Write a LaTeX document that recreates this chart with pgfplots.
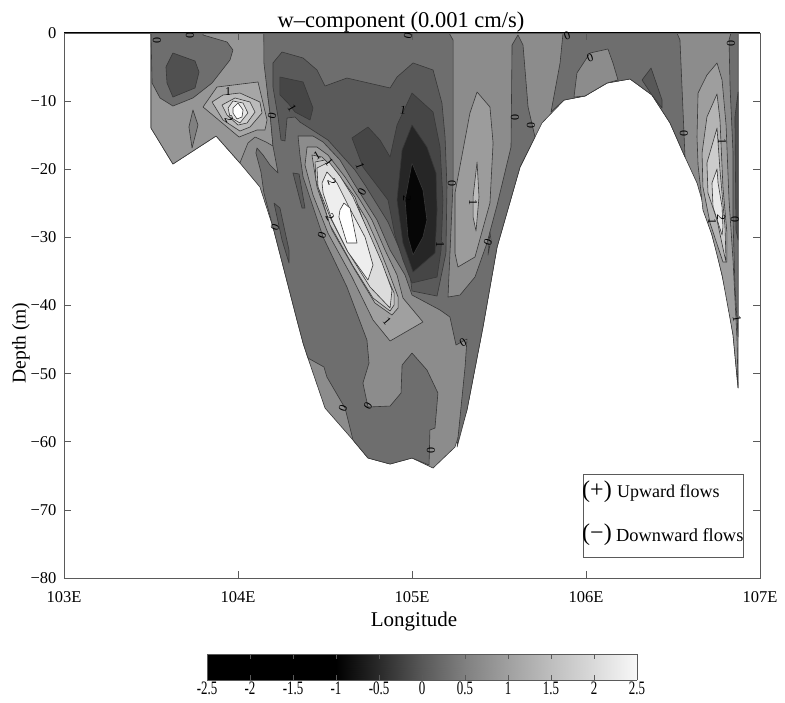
\documentclass[border=0pt]{standalone}
\usepackage{fontspec}
\setmainfont{Liberation Serif}
\usepackage{pgfplots}
\pgfplotsset{compat=1.18}
\definecolor{axc}{HTML}{5A5A5A}
\definecolor{lnc}{HTML}{383838}
\newcommand\poly[2]{\xglobal\definecolor{pc#1}{HTML}{#1}\addplot[line width=0.6pt,draw=lnc,fill=pc#1,no markers,sharp plot,line join=round] coordinates {#2} -- cycle;}
\newcommand\clab[4]{\node[font=\fontsize{12}{12}\selectfont,text=black,inner sep=0pt,rotate=#4] at ({#1*1pt},{(702-#2)*1pt}) {#3};}
\newcommand\txt[4]{\node[font=\fontsize{#4}{#4}\selectfont,text=black,inner sep=0pt] at ({#1*1pt},{(702-#2)*1pt}) {#3};}
\begin{document}
\begin{tikzpicture}
\path[use as bounding box] (0,0) rectangle (785pt,702pt);
\begin{axis}[
  name=main, at={(64pt,124pt)}, anchor=south west, scale only axis,
  width=696pt, height=545pt, xmin=103, xmax=107, ymin=-80, ymax=0,
  axis on top, axis line style={color=axc,line width=0.9pt},
  tick align=inside, major tick length=7pt, tick style={color=axc,line width=0.7pt},
  xtick={103,104,105,106,107}, xticklabels={103E,104E,105E,106E,107E},
  ytick={-80,-70,-60,-50,-40,-30,-20,-10,0},
  yticklabels={−80,−70,−60,−50,−40,−30,−20,−10,0},
  tick label style={font=\fontsize{16.5}{17}\selectfont},
  xticklabel style={yshift=-10pt}, yticklabel style={xshift=-4pt},
]
% domain
\poly{8C8C8C}{(103.5,0)(103.5,-13.95)(103.626,-19.23)(103.874,-15.12)(104.011,-19.08)(104.126,-22.61)(104.201,-28.48)(104.339,-42.13)(104.374,-45.51)(104.402,-47.71)(104.5,-55.05)(104.661,-59.75)(104.747,-62.39)(104.874,-63.27)(105.0,-62.39)(105.121,-63.86)(105.247,-60.78)(105.316,-55.34)(105.408,-43.16)(105.489,-31.42)(105.621,-19.67)(105.747,-13.21)(105.874,-9.84)(105.994,-9.25)(106.121,-7.34)(106.253,-6.75)(106.379,-9.10)(106.483,-13.21)(106.569,-18.20)(106.638,-22.02)(106.695,-27.01)(106.753,-32.30)(106.810,-38.76)(106.845,-44.33)(106.874,-52.11)(106.874,0)}
% left lighter area
\poly{969696}{(103.5,0)(104.149,0)(104.149,-1.03)(104.172,-9.40)(104.184,-11.74)(104.201,-16.59)(104.161,-16.0)(104.098,-15.27)(104.057,-16.15)(104.011,-19.08)(103.874,-15.12)(103.626,-19.23)(103.5,-13.95)}
\poly{6E6E6E}{(103.5,0)(103.506,-7.34)(103.552,-9.54)(103.626,-10.72)(103.741,-9.54)(103.851,-7.34)(103.954,-3.96)(103.971,-2.50)(103.937,-1.32)(103.799,-0.29)(103.8,0)}
\poly{505050}{(103.626,-2.94)(103.753,-4.11)(103.776,-5.73)(103.753,-8.07)(103.626,-9.40)(103.592,-7.34)(103.586,-4.99)}
\poly{808080}{(103.741,-11.30)(103.770,-13.51)(103.736,-16.88)(103.718,-13.80)}
% bright spot
\poly{A6A6A6}{(103.799,-10.86)(103.879,-7.93)(104.115,-7.19)(104.167,-12.77)(104.155,-14.24)(104.109,-14.24)(104.006,-15.27)}
\poly{BABABA}{(103.851,-10.13)(103.914,-9.10)(104.011,-8.81)(104.126,-10.13)(104.138,-11.74)(104.069,-13.80)(104.011,-14.39)(103.914,-12.77)}
\poly{CECECE}{(103.908,-10.57)(103.983,-9.54)(104.069,-10.13)(104.098,-11.60)(104.052,-13.21)(104.0,-13.51)(103.937,-12.04)}
\poly{E6E6E6}{(103.943,-11.01)(103.971,-9.98)(104.029,-10.28)(104.057,-11.74)(104.011,-13.21)(103.954,-12.33)}
\poly{FFFFFF}{(103.971,-11.01)(104.0,-10.28)(104.029,-11.30)(104.023,-12.33)(103.994,-12.62)(103.971,-11.74)}
% large dark region
\poly{6E6E6E}{(104.149,0)(105.213,0)(105.236,-1.03)(105.236,-22.02)(105.207,-38.76)(105.276,-38.46)(105.362,-35.82)(105.431,-30.83)(105.489,-25.25)(105.569,-16.74)(105.575,-1.76)(105.609,-0.29)(105.638,-1.76)(105.667,-10.86)(105.707,-15.27)(105.621,-19.67)(105.489,-31.42)(105.408,-43.16)(105.316,-55.34)(105.259,-60.78)(105.305,-49.03)(105.316,-44.92)(105.253,-45.80)(105.218,-41.69)(105.161,-40.66)(105.0,-38.46)(104.960,-35.53)(104.874,-31.86)(104.799,-27.45)(104.672,-22.31)(104.586,-18.64)(104.489,-16.0)(104.431,-15.12)(104.345,-15.12)(104.356,-17.91)(104.374,-21.14)(104.489,-29.95)(104.626,-37.29)(104.741,-45.07)(104.753,-48.44)(104.718,-51.38)(104.747,-54.90)(104.874,-54.76)(104.937,-52.85)(104.943,-48.74)(105.0,-46.98)(105.086,-49.47)(105.149,-52.85)(105.132,-57.99)(105.103,-58.28)(105.098,-63.42)(105.0,-62.39)(104.874,-63.27)(104.747,-62.39)(104.661,-59.75)(104.615,-55.05)(104.511,-50.50)(104.494,-49.03)(104.402,-47.71)(104.374,-45.51)(104.339,-42.13)(104.201,-28.48)(104.149,-23.49)(104.132,-20.40)(104.103,-17.62)(104.109,-16.88)(104.144,-17.91)(104.184,-19.38)(104.230,-20.55)(104.201,-16.59)(104.184,-11.74)(104.172,-9.40)(104.149,-4.40)(104.149,-1.03)}
\poly{5A5A5A}{(104.316,-20.55)(104.351,-20.70)(104.385,-25.69)(104.368,-25.69)}
\poly{5A5A5A}{(104.207,-24.96)(104.241,-25.69)(104.293,-31.86)(104.293,-33.76)(104.253,-30.39)}
\poly{5A5A5A}{(104.201,-4.40)(104.253,-2.79)(104.374,-3.67)(104.454,-5.43)(104.5,-7.78)(104.626,-6.61)(104.874,-8.07)(104.914,-6.46)(105.006,-4.40)(105.121,-5.43)(105.172,-10.28)(105.190,-15.27)(105.201,-22.61)(105.195,-32.30)(105.144,-38.61)(105.0,-37.87)(104.989,-35.53)(104.931,-31.86)(104.862,-27.75)(104.730,-22.31)(104.672,-20.11)(104.517,-15.71)(104.356,-13.07)(104.328,-12.33)(104.282,-12.48)(104.270,-15.85)(104.247,-15.71)(104.230,-12.33)(104.201,-7.93)}
\poly{464646}{(104.241,-6.46)(104.374,-7.19)(104.431,-11.01)(104.414,-12.77)(104.328,-11.60)(104.287,-10.28)(104.241,-9.10)}
\poly{464646}{(104.655,-15.41)(104.747,-13.80)(104.816,-15.71)(104.874,-18.20)(104.914,-13.51)(105.0,-8.81)(105.121,-11.60)(105.161,-16.74)(105.178,-24.51)(105.167,-31.86)(105.144,-35.82)(105.0,-36.70)(104.948,-33.32)(104.902,-29.66)(104.862,-24.51)(104.718,-19.67)}
\poly{262626}{(105.0,-13.51)(105.086,-16.74)(105.138,-20.55)(105.144,-25.98)(105.132,-32.30)(105.006,-35.08)(104.948,-30.83)(104.914,-24.51)(104.943,-17.18)}
\poly{060606}{(105.0,-19.08)(105.063,-23.05)(105.086,-27.45)(105.063,-29.95)(105.006,-32.59)(104.977,-29.95)(104.960,-24.51)}
% plume
\poly{A0A0A0}{(104.397,-16.74)(104.454,-16.74)(104.517,-17.91)(104.615,-21.14)(104.701,-24.51)(104.770,-27.45)(104.845,-31.86)(104.914,-35.53)(104.948,-38.90)(105.063,-42.42)(104.874,-45.21)(104.776,-42.13)(104.655,-35.82)(104.517,-29.37)(104.431,-23.78)(104.385,-19.38)}
\poly{B4B4B4}{(104.425,-17.91)(104.483,-18.20)(104.557,-20.11)(104.644,-23.34)(104.741,-27.45)(104.805,-31.12)(104.862,-34.79)(104.920,-38.75)(104.920,-40.37)(104.885,-41.40)(104.787,-39.63)(104.672,-34.79)(104.540,-28.92)(104.454,-22.61)}
\poly{C8C8C8}{(104.443,-18.94)(104.5,-18.64)(104.580,-20.85)(104.672,-24.07)(104.718,-27.45)(104.776,-31.12)(104.839,-34.79)(104.897,-38.17)(104.897,-39.93)(104.874,-40.81)(104.776,-38.90)(104.661,-34.20)(104.529,-28.18)(104.448,-21.58)}
\poly{DCDCDC}{(104.454,-19.82)(104.523,-18.94)(104.586,-20.99)(104.661,-24.07)(104.753,-29.36)(104.828,-33.76)(104.885,-37.73)(104.874,-40.37)(104.759,-37.29)(104.626,-31.86)(104.529,-27.01)(104.460,-22.61)}
\poly{EEEEEE}{(104.483,-22.02)(104.511,-20.40)(104.569,-22.02)(104.632,-25.25)(104.730,-29.95)(104.776,-34.06)(104.747,-36.26)(104.632,-32.15)(104.540,-27.45)(104.489,-23.49)}
\poly{FFFFFF}{(104.586,-25.98)(104.609,-24.96)(104.644,-25.69)(104.684,-30.83)(104.626,-30.83)(104.580,-27.01)}
% bubble
\poly{9C9C9C}{(105.374,-8.66)(105.448,-10.86)(105.466,-16.15)(105.448,-24.96)(105.362,-32.88)(105.264,-34.35)(105.247,-32.30)(105.247,-23.49)(105.333,-11.74)}
\poly{BCBCBC}{(105.374,-18.94)(105.385,-24.07)(105.368,-29.07)(105.351,-27.01)(105.351,-24.07)}
\poly{8C8C8C}{(105.448,-29.21)(105.437,-32.59)(105.454,-30.39)}
% right hill side
\poly{6E6E6E}{(105.868,0)(105.851,-4.40)(105.799,-11.60)(105.874,-9.84)(105.994,-9.25)(106.121,-7.34)(106.253,-6.75)(106.379,-9.10)(106.483,-13.21)(106.569,-18.20)(106.540,-1.03)(106.523,0)}
\poly{8C8C8C}{(105.931,-9.40)(105.948,-5.87)(106.023,-2.94)(106.126,-2.35)(106.155,-4.40)(106.184,-6.90)(106.121,-7.34)(105.994,-9.25)}
\poly{585858}{(106.322,-6.90)(106.374,-5.14)(106.437,-9.84)(106.437,-11.01)(106.379,-9.10)}
% right plume
\poly{9E9E9E}{(106.753,-4.40)(106.695,-6.17)(106.644,-8.81)(106.638,-15.27)(106.644,-19.38)(106.672,-25.98)(106.724,-29.65)(106.782,-35.53)(106.845,-44.33)(106.874,-52.11)(106.868,-45.07)(106.845,-33.32)(106.822,-24.51)(106.805,-13.51)(106.782,-6.90)}
\poly{B4B4B4}{(106.753,-8.95)(106.695,-12.33)(106.667,-17.62)(106.672,-22.61)(106.713,-27.89)(106.787,-33.62)(106.810,-33.62)(106.810,-29.36)(106.787,-22.61)(106.770,-12.77)}
\poly{CCCCCC}{(106.753,-13.95)(106.695,-19.08)(106.701,-23.49)(106.753,-27.45)(106.793,-32.30)(106.805,-33.62)(106.799,-28.48)(106.770,-20.11)}
\poly{E8E8E8}{(106.753,-19.96)(106.724,-22.02)(106.730,-25.54)(106.782,-29.65)(106.787,-28.48)(106.782,-25.54)(106.759,-22.02)}
\poly{6E6E6E}{(106.822,-1.03)(106.833,0)(106.874,0)(106.874,-44.63)(106.856,-37.29)(106.845,-27.45)(106.845,-17.62)(106.828,-7.93)}
\poly{505050}{(106.874,-8.66)(106.856,-12.33)(106.862,-28.92)(106.874,-30.39)}
\end{axis}
% colour bar
\begin{axis}[
  at={(207pt,22pt)}, anchor=south west, scale only axis,
  width=430pt, height=26pt, xmin=-2.5, xmax=2.5, ymin=0, ymax=1,
  view={0}{90}, axis on top,
  colormap={cb}{color(0)=(black) color(3)=(black) rgb255(4)=(42,42,42) rgb255(5)=(88,88,88) rgb255(6)=(128,128,128) rgb255(7)=(160,160,160) rgb255(8)=(190,190,190) rgb255(9)=(218,218,218) rgb255(10)=(248,248,248)},
  axis line style={color=axc,line width=0.9pt},
  ytick=\empty, xtick={-2.5,-2,-1.5,-1,-0.5,0,0.5,1,1.5,2,2.5},
  xticklabels={-2.5,-2,-1.5,-1,-0.5,0,0.5,1,1.5,2,2.5},
  tick align=inside, major tick length=5pt, tick style={color=axc,line width=0.6pt},
  xtick pos=both,
  xticklabel style={font=\fontsize{19}{19}\selectfont, xscale=0.68, yshift=2pt},
]
\addplot3[surf,shader=interp,point meta=x] coordinates {
(-2.5,0,0) (2.5,0,0)

(-2.5,1,0) (2.5,1,0)
};
\end{axis}
% text
\txt{401}{22}{w–component (0.001 cm/s)}{22.5}
\txt{414}{621}{Longitude}{21}
\node[rotate=90,font=\fontsize{19.5}{20}\selectfont,inner sep=0pt] at (21pt,{(702-343)*1pt}) {Depth (m)};
\draw[black,line width=1pt] (64pt,{(702-33)*1pt}) -- (760pt,{(702-33)*1pt});
% legend box
\draw[color=axc,fill=white,line width=0.7pt] (583pt,{(702-474)*1pt}) rectangle (743pt,{(702-557)*1pt});
\txt{597}{492}{(+)}{24}
\node[anchor=west,font=\fontsize{18}{18}\selectfont,inner sep=0pt] at (617pt,{(702-493)*1pt}) {Upward flows};
\txt{597}{535}{(−)}{24}
\node[anchor=west,font=\fontsize{18.4}{18.4}\selectfont,inner sep=0pt] at (616pt,{(702-535)*1pt}) {Downward flows};
% contour labels
\clab{157}{41}{0}{90} \clab{190}{36}{0}{90} \clab{408}{36}{0}{80} \clab{272}{116}{0}{80}
\clab{275}{227}{0}{70} \clab{362}{192}{0}{60} \clab{322}{235}{0}{70} \clab{452}{184}{0}{90}
\clab{515}{118}{0}{90} \clab{531}{126}{0}{90} \clab{590}{58}{0}{20} \clab{567}{36}{0}{20}
\clab{684}{134}{0}{90} \clab{731}{44}{0}{90} \clab{735}{220}{0}{90} \clab{488}{242}{0}{70}
\clab{343}{408}{0}{70} \clab{368}{406}{0}{60} \clab{431}{451}{0}{90} \clab{463}{343}{0}{30}
\clab{228}{92}{1}{0} \clab{229}{119}{2}{-60} \clab{292}{108}{1}{-60} \clab{317}{156}{1}{30}
\clab{329}{162}{1}{-50} \clab{332}{182}{2}{-70} \clab{330}{217}{2}{-60} \clab{360}{166}{1}{-70}
\clab{403}{110}{1}{-10} \clab{440}{245}{1}{-90} \clab{407}{199}{2}{-90} \clab{473}{203}{1}{-90}
\clab{722}{142}{1}{-90} \clab{712}{222}{1}{-90} \clab{721}{218}{2}{-90} \clab{737}{319}{1}{-80}
\clab{387}{321}{1}{-50}
\end{tikzpicture}
\end{document}
